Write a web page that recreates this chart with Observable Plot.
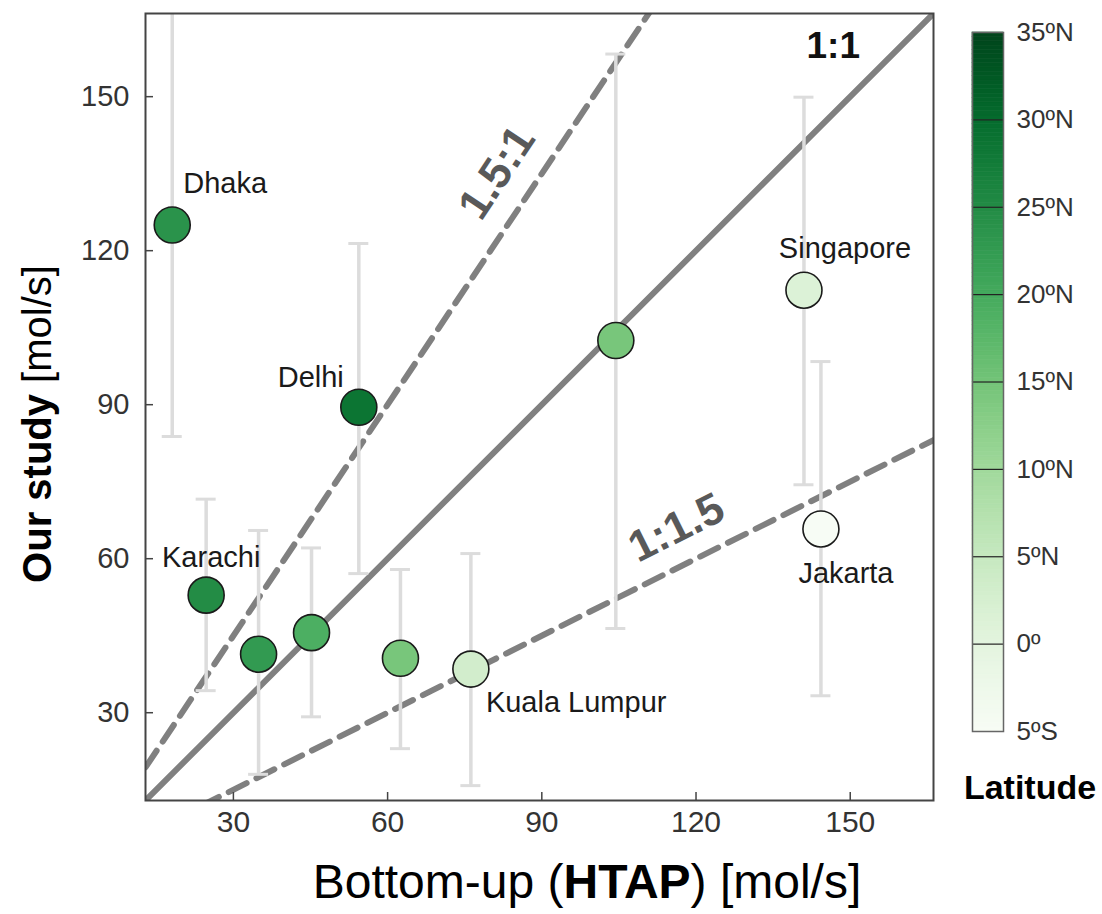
<!DOCTYPE html>
<html><head><meta charset="utf-8">
<script src="https://cdn.jsdelivr.net/npm/d3@7"></script>
<script src="https://cdn.jsdelivr.net/npm/@observablehq/plot@0.6"></script>
<style>
body{margin:0;background:#fff;font-family:Arial,"Liberation Sans",sans-serif;}
#wrap{position:relative;width:1102px;height:914px;}
#wrap svg{position:absolute;left:0;top:0;}
</style></head><body><div id="wrap"></div>
<script>
// ---- data ----
const cities    = ["Dhaka","Delhi","Karachi","","","","Kuala Lumpur","","Singapore","Jakarta"];
const htap      = [18.1, 54.4, 24.7, 34.9, 45.2, 62.5, 76.2, 104.4, 141.0, 144.3];
const study     = [125.0, 89.5, 52.9, 41.4, 45.6, 40.6, 38.5, 102.5, 112.3, 65.8];
const studyLow  = [83.8, 57.1, 34.3, 18.0, 29.2, 23.0, 15.8, 46.4, 74.4, 33.3];
const studyHigh = [170, 121.4, 71.6, 65.5, 62.1, 57.9, 61.0, 158.3, 149.9, 98.4];
const latitude  = [23.8, 28.6, 24.9, 22.6, 19.1, 14.5, 3.1, 14.5, 1.3, -6.2];
const axisTicks = [30, 60, 90, 120, 150];
const latTicks  = [-5, 0, 5, 10, 15, 20, 25, 30, 35];
const refNames  = ["1:1", "1.5:1", "1:1.5"];
const refSlopes = [1, 1.5, 0.5];
const refLabelX = [146.7, 81.3, 116.2];
const refLabelY = [159.8, 135.2, 66.0];
const domain    = [12.9, 166.2];
const latDomain = [-5, 35];

// ---- derived tables ----
const rows = htap.map((x, i) => ({city: cities[i], x, y: study[i], lo: studyLow[i], hi: studyHigh[i], lat: latitude[i]}));
const refLines = refNames.flatMap((name, i) => domain.map(x => ({name, x, y: refSlopes[i] * x})));
const refLabels = refNames.map((name, i) => ({name, x: refLabelX[i], y: refLabelY[i], slope: refSlopes[i]}));

const FONT = "Arial, 'Liberation Sans', sans-serif";
const labelStyle = {
  "Dhaka":        {dx: 11,  dy: -41, textAnchor: "start"},
  "Delhi":        {dx: -15, dy: -30, textAnchor: "end"},
  "Karachi":      {dx: 5,   dy: -37, textAnchor: "middle"},
  "Singapore":    {dx: 41,  dy: -41, textAnchor: "middle"},
  "Jakarta":      {dx: 25,  dy: 45,  textAnchor: "middle"},
  "Kuala Lumpur": {dx: 15,  dy: 34,  textAnchor: "start"}
};
const cityMarks = rows.filter(d => d.city).map(d =>
  Plot.text([d], {x: "x", y: "y", text: "city", fontSize: 29, fill: "#1a1a1a", ...labelStyle[d.city]}));

const angle = s => -Math.atan(s) * 180 / Math.PI;
const refLabelMarks = refLabels.map(d =>
  Plot.text([d], {x: "x", y: "y", text: "name", fontWeight: "bold",
    fontSize: d.slope === 1 ? 37 : 44,
    fill: d.slope === 1 ? "#111" : "#595959",
    rotate: d.slope === 1 ? 0 : angle(d.slope)}));

const chart = Plot.plot({
  width: 1102, height: 914,
  marginLeft: 145, marginRight: 169, marginTop: 13, marginBottom: 114,
  style: {fontFamily: FONT, background: "white", overflow: "visible"},
  x: {domain, ticks: axisTicks},
  y: {domain, ticks: axisTicks},
  color: {type: "linear", scheme: "greens", domain: latDomain},
  marks: [
    Plot.line(refLines.filter(d => d.name === "1:1"), {x: "x", y: "y", stroke: "#808080", strokeWidth: 6, clip: true}),
    Plot.line(refLines.filter(d => d.name !== "1:1"), {x: "x", y: "y", z: "name", stroke: "#808080", strokeWidth: 6, strokeDasharray: "20,11", clip: true}),
    Plot.ruleX(rows, {x: "x", y1: "lo", y2: "hi", stroke: "#dcdcdc", strokeWidth: 3.5, clip: true}),
    Plot.ruleY(rows, {y: "lo", x1: "x", x2: "x", insetLeft: -10, insetRight: -10, stroke: "#dcdcdc", strokeWidth: 3, clip: true}),
    Plot.ruleY(rows, {y: "hi", x1: "x", x2: "x", insetLeft: -10, insetRight: -10, stroke: "#dcdcdc", strokeWidth: 3, clip: true}),
    Plot.dot(rows, {x: "x", y: "y", r: 18, fill: "lat", stroke: "#1a1a1a", strokeWidth: 1.6}),
    ...cityMarks,
    ...refLabelMarks,
    Plot.axisX(axisTicks, {tickSize: -8, fill: "none", stroke: "#444", strokeWidth: 1.5, label: null}),
    Plot.axisX(axisTicks, {tickSize: 0, tickPadding: 10, fontSize: 30, fill: "#333", label: null}),
    Plot.axisY(axisTicks, {tickSize: -8, fill: "none", stroke: "#444", strokeWidth: 1.5, label: null}),
    Plot.axisY(axisTicks, {tickSize: 0, tickPadding: 16, fontSize: 29, fill: "#333", label: null}),
    Plot.frame({stroke: "#444", strokeWidth: 2})
  ]
});

// colour bar legend (vertical) drawn with its own Plot
const stops = d3.range(latDomain[0], latDomain[1], 0.25);
const latFmt = d => d === 0 ? "0º" : d > 0 ? `${d}ºN` : `${-d}ºS`;
const bar = Plot.plot({
  width: 142, height: 760,
  marginLeft: 12, marginRight: 99, marginTop: 32, marginBottom: 29,
  style: {fontFamily: FONT, background: "none", overflow: "visible"},
  x: {domain: [0, 1], axis: null},
  y: {domain: latDomain},
  color: {type: "linear", scheme: "greens", domain: latDomain},
  marks: [
    Plot.rect(stops, {x1: 0, x2: 1, y1: d => d, y2: d => d + 0.25, fill: d => d + 0.125, stroke: d => d + 0.125, strokeWidth: 0.6}),
    Plot.ruleY(latTicks.slice(1, -1), {y: d => d, stroke: "#222", strokeWidth: 1.2}),
    Plot.axisY(latTicks, {anchor: "right", tickSize: 0, tickPadding: 13, tickFormat: latFmt, fontSize: 26, fill: "#333", label: null}),
    Plot.frame({stroke: "#666", strokeWidth: 1.5})
  ]
});

const wrap = document.getElementById("wrap");
wrap.append(chart);
bar.style.left = "960px";
wrap.append(bar);

// axis titles and legend title
const svg = d3.select(chart);
const yt = svg.append("text")
  .attr("transform", "translate(40,424) rotate(-90)")
  .attr("text-anchor", "middle").attr("dominant-baseline", "middle")
  .attr("font-size", 40).attr("fill", "#000").attr("font-family", FONT);
yt.append("tspan").attr("font-weight", "bold").text("Our study");
yt.append("tspan").text(" [mol/s]");

const xt = svg.append("text")
  .attr("x", 587).attr("y", 898)
  .attr("text-anchor", "middle")
  .attr("font-size", 48).attr("fill", "#000").attr("font-family", FONT);
xt.append("tspan").text("Bottom-up (");
xt.append("tspan").attr("font-weight", "bold").text("HTAP");
xt.append("tspan").text(") [mol/s]");

svg.append("text")
  .attr("x", 1030).attr("y", 790)
  .attr("text-anchor", "middle").attr("dominant-baseline", "middle")
  .attr("font-size", 34).attr("font-weight", "bold").attr("fill", "#000").attr("font-family", FONT)
  .text("Latitude");
</script></body></html>
